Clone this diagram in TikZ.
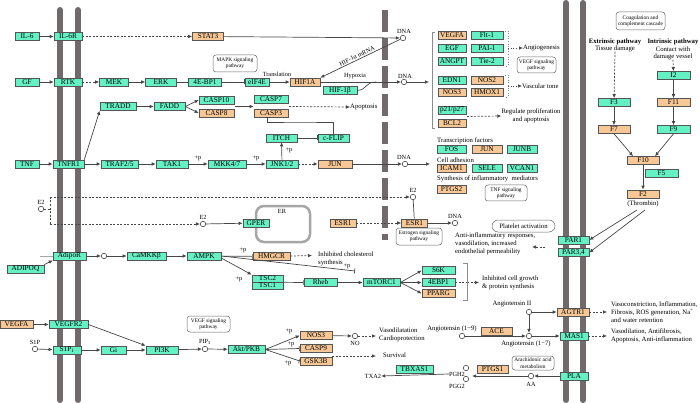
\documentclass[tikz,border=0pt]{standalone}
\usepackage{fontspec}
\setmainfont{Liberation Serif}
\usetikzlibrary{arrows.meta,calc}
\definecolor{kg}{RGB}{100,242,196}
\definecolor{ko}{RGB}{247,200,150}
\definecolor{memb}{RGB}{112,106,106}
\definecolor{lc}{RGB}{70,70,70}
\definecolor{bl}{RGB}{85,85,85}
\newcommand\bxf{\fontsize{7.3}{8}\selectfont}
\newcommand\lbf{\fontsize{6.7}{8}\selectfont}
\newcommand\smf{\fontsize{6.3}{7}\selectfont}
\newcommand\pwf{\fontsize{5.4}{6.3}\selectfont}
\tikzset{
 bx/.style={draw=bl, line width=0.6pt, minimum height=8pt, inner sep=0pt, font=\bxf},
 gb/.style={bx, fill=kg, minimum width=#1},
 ob/.style={bx, fill=ko, minimum width=#1},
 pw/.style 2 args={draw=black!60, line width=0.5pt, rounded corners=3pt, align=center, font=\pwf, inner sep=0pt, minimum width=#1, minimum height=#2},
 cp/.style={circle, draw=black!70, line width=0.6pt, minimum size=5.5pt, inner sep=0pt, fill=white},
 lb/.style={font=\lbf, inner sep=0pt},
 sl/.style={font=\smf, inner sep=0pt},
 ln/.style={draw=lc, line width=0.7pt},
 ac/.style={ln, -{Latex[length=4pt,width=3.6pt]}},
 ih/.style={ln, -{Bar[width=5pt]}},
 da/.style={dash pattern=on 2pt off 1.5pt},
 mb/.style={draw=memb, line width=6pt, line cap=round},
 brk/.style={draw=black!45, line width=0.6pt},
}
\begin{document}
\begin{tikzpicture}[x=1pt,y=-1pt]
\useasboundingbox (0,0) rectangle (700,403);
% membranes
\draw[mb] (60,10) -- (60,400);
\draw[mb] (78,10) -- (78,400);
\draw[mb] (566,3) -- (566,400);
\draw[mb] (583,3) -- (583,400);
\draw[draw=memb, line width=6pt, dash pattern=on 22pt off 6pt] (385,10) -- (385,240);

% ---------- IL-6 row
\node[gb=24] (IL6) at (27,36.5) {IL-6};
\node[gb=28] (IL6R) at (68,36.5) {IL-6R};
\node[ob=31] (STAT3) at (208,36.5) {STAT3};
\node[cp] (dna1) at (403,38) {};
\node[sl] at (404,31) {DNA};
\draw[ac] (IL6) -- (IL6R);
\draw[ac,da] (IL6R) -- (STAT3);
\draw[ac] (STAT3) -- (dna1);

% ---------- GF row
\node[gb=24] (GF) at (27,82) {GF};
\node[gb=28] (RTK) at (68,82) {RTK};
\node[gb=29] (MEK) at (114,82) {MEK};
\node[gb=31] (ERK) at (161,82) {ERK};
\node[gb=33] (EBP) at (205,82) {4E-BP1};
\node[gb=24] (EIF) at (257,82) {eIF4E};
\node[ob=30] (HIF1A) at (305,82) {HIF1A};
\node[gb=34] (HIF1B) at (340,90.5) {HIF-1β};
\node[cp] (dna2) at (404,82) {};
\node[sl] at (405,76) {DNA};
\node[pw={44}{17}] (mapk) at (235,63.5) {MAPK signaling\\pathway};
\node[sl] at (277,74) {Translation};
\node[sl] at (355,76.5) {Hypoxia};
\node[sl, rotate=26] at (357,56) {HIF-1α mRNA};
\draw[ac] (GF) -- (RTK);
\draw[ac,da] (RTK) -- (MEK);
\draw[ac] (MEK) -- (ERK);
\draw[ih] (ERK) -- (EBP);
\draw[ih] (EBP) -- (EIF);
\draw[ac] (EIF) -- (HIF1A);
\draw[ac] (HIF1A) -- (dna2);
\draw[ac] (dna1) -- (HIF1A.north east);
\draw[ln] (HIF1B.east) .. controls (367,90) and (365,82) .. (376,82);
\coordinate (gbr) at (429,82);
\draw[ac] (dna2) -- (gbr);

% ---------- gene panel
\draw[brk] (435,32) -- (432,32) -- (432,128) -- (435,128);
\node[ob=28] (VEGFA) at (452,35.5) {VEGFA};
\node[gb=32] (FLT1) at (487,35.5) {Flt-1};
\node[gb=28] (EGF) at (452,48.5) {EGF};
\node[gb=32] (PAI1) at (487,48.5) {PAI-1};
\node[gb=28] (ANGPT) at (452,61) {ANGPT};
\node[gb=32] (TIE2) at (487,61) {Tie-2};
\node[gb=28] (EDN1) at (452,80) {EDN1};
\node[ob=32] (NOS2) at (487,80) {NOS2};
\node[ob=28] (NOS3a) at (452,92) {NOS3};
\node[ob=32] (HMOX1) at (487,92) {HMOX1};
\node[gb=28] (P21) at (452,110) {p21/p27};
\node[ob=28] (BCL2) at (452,123) {BCL2};
\draw[brk, dotted] (505,31) -- (508,31) -- (508,66) -- (505,66);
\draw[brk, dotted] (505,75) -- (508,75) -- (508,97) -- (505,97);
\node[lb, anchor=west] (angio) at (523,48) {Angiogenesis};
\node[lb, anchor=west] (vasc) at (522,86) {Vascular tone};
\draw[ln, dotted, -{Latex[length=4pt,width=3.6pt]}] (508,48) -- (angio.west);
\draw[ln, dotted, -{Latex[length=4pt,width=3.6pt]}] (508,86) -- (vasc.west);
\node[pw={39}{16}] (vegfpw) at (536.5,65) {VEGF signaling\\pathway};
\node[lb, align=center] (regul) at (531,116) {Regulate proliferation\\and apoptosis};
\coordinate (rg) at (467,116.5);
\draw[ac,da] (rg) -- (regul.west);

\node[lb, anchor=west] at (437,141) {Transcription factors};
\node[gb=29] (FOS) at (451.5,149.5) {FOS};
\node[ob=30] (JUN2) at (487,149.5) {JUN};
\node[gb=30] (JUNB) at (522,149.5) {JUNB};
\node[lb, anchor=west] at (437,160) {Cell adhesion};
\node[ob=29] (ICAM1) at (451.5,168.5) {ICAM1};
\node[gb=30] (SELE) at (487,168.5) {SELE};
\node[gb=30] (VCAN1) at (522,168.5) {VCAN1};
\node[lb, anchor=west] at (437,179) {Synthesis of inflammatory\ \ mediators};
\node[ob=29] (PTGS2) at (451.5,189.5) {PTGS2};
\node[pw={42}{16}] (tnfpw) at (506,193) {TNF signaling\\pathway};

% ---------- apoptosis branch
\node[gb=36] (TRADD) at (118,106.5) {TRADD};
\node[gb=31] (FADD) at (169.5,106.5) {FADD};
\node[gb=35] (CASP10) at (216.5,100) {CASP10};
\node[ob=35] (CASP8) at (216.5,113) {CASP8};
\node[gb=34] (CASP7) at (271,99.5) {CASP7};
\node[ob=34] (CASP3) at (271,113) {CASP3};
\node[lb, anchor=west] (apop) at (350,107) {Apoptosis};
\node[gb=31] (ITCH) at (281.5,138) {ITCH};
\node[gb=31] (CFLIP) at (333.5,138) {c-FLIP};
\draw[ac] (TRADD) -- (FADD);
\draw[ac] (FADD.east) -- (CASP10.west);
\draw[ac] (FADD.east) -- (CASP8.west);
\coordinate (cg) at (235,106.5);
\draw[ac] (cg) -- (CASP7.west |- cg);
\coordinate (ca) at (289,106.5);
\draw[ac,da] (ca) -- (apop.west);
\draw[ih] (ITCH) -- (CFLIP);
\coordinate (cf) at (300,122);
\draw[ih] (CFLIP.north) |- (cf) -| ([xshift=-4pt]CASP3.south);

% ---------- TNF row
\node[gb=24] (TNF) at (27,164) {TNF};
\node[gb=31] (TNFR1) at (68.5,164) {TNFR1};
\node[gb=37] (TRAF) at (119.5,164) {TRAF2/5};
\node[gb=32] (TAK1) at (172,164) {TAK1};
\node[gb=38] (MKK) at (227,164) {MKK4/7};
\node[gb=32] (JNK) at (282,164) {JNK1/2};
\node[ob=34] (JUN1) at (335,164) {JUN};
\node[cp] (dna3) at (405,164) {};
\node[sl] at (404,157) {DNA};
\draw[ac] (TNF) -- (TNFR1);
\draw[ac] (TNFR1) -- (TRAF);
\draw[ac] (TRAF) -- (TAK1);
\draw[ac] (TAK1) -- (MKK);
\draw[ac] (MKK) -- (JNK);
\draw[ac] (JNK) -- (ITCH);
\draw[ac,da] (JNK) -- (JUN1);
\draw[ac] (JUN1) -- (dna3);
\coordinate (d3e) at (430,164);
\draw[ac] (dna3) -- (d3e);
\draw[ac] (TNFR1.north east) -- (TRADD.south west);
\node[sl] at (198,158) {+p};
\node[sl] at (256,158) {+p};
\node[sl] at (289,150) {+p};

% ---------- E2 / estrogen
\node[cp] (e2a) at (41,209) {};
\node[sl] at (41,202) {E2};
\node[cp] (e2b) at (413,197) {};
\node[sl] at (413,190) {E2};
\node[cp] (e2c) at (203,224) {};
\node[sl] at (203,217) {E2};
\coordinate (ea) at (50,209);
\coordinate (eb) at (50,197);
\coordinate (ec) at (50,224);
\draw[ln,da] (e2a) -- (ea);
\draw[ln,da] (eb) -- (ec);
\draw[ac,da] (eb) -- (e2b);
\draw[ac,da] (ec) -- (e2c);
\draw[draw=black!35, line width=2.5pt, rounded corners=8pt] (256,206) rectangle (310,242);
\node[sl] at (282,211) {ER};
\node[gb=26] (GPER) at (256,223) {GPER};
\draw[ac] (e2c) -- (GPER);
\node[ob=26] (ESR1a) at (343,223) {ESR1};
\node[ob=26] (ESR1b) at (414.5,223) {ESR1};
\node[cp] (dna4) at (455,223) {};
\node[sl] at (455,216) {DNA};
\draw[ac,da] (ESR1a) -- (ESR1b);
\draw[ln] (e2b) -- (ESR1b);
\draw[ac] (ESR1b) -- (dna4);
\node[pw={46}{17}] (estpw) at (419,236.5) {Estrogen signaling\\pathway};
\node[draw=black!60, line width=0.5pt, rounded corners=6pt, minimum width=63pt, minimum height=12pt, inner sep=0pt, font=\lbf] (plt) at (523.5,226) {Platelet activation};
\node[lb, anchor=north west, align=left] (anti) at (455,233) {Anti-inflammatory responses,\\vasodilation, increased\\endothelial permeability};

% ---------- coagulation
\node[pw={49}{18}] (coag) at (640.5,21) {Coagulation and\\complement cascade};
\node[lb, font=\lbf\bfseries] at (615,42) {Extrinsic pathway};
\node[lb] (tis) at (615,48.5) {Tissue damage};
\node[lb, font=\lbf\bfseries] at (673,42) {Intrinsic pathway};
\node[lb] at (673,49) {Contact with};
\node[lb] (dmg) at (673,56.5) {damage vessel};
\node[gb=32] (F3) at (614,102.5) {F3};
\node[ob=32] (F7) at (614,129.5) {F7};
\node[gb=33] (F12) at (673.5,75.5) {I2};
\node[ob=33] (F11) at (673.5,102.5) {F11};
\node[gb=33] (F9) at (673.5,129.5) {F9};
\node[ob=32] (F10) at (643,160.5) {F10};
\node[gb=33] (F5) at (661.5,173) {F5};
\node[ob=32] (F2) at (643,194) {F2};
\node[lb] (thr) at (643,204) {(Thrombin)};
\draw[ac,da] (tis.south) -- (F3);
\draw[ac,da] (dmg.south) -- (F12);
\draw[ac] (F3) -- (F7);
\draw[ac] (F12) -- (F11);
\draw[ac] (F11) -- (F9);
\draw[ac] (F7.south) -- ([xshift=-10pt]F10.north);
\draw[ac] (F9.south) -- ([xshift=12pt]F10.north);
\draw[ac] (F10) -- (F2);
\node[gb=31] (PAR1) at (573.5,240) {PAR1};
\node[gb=31] (PAR34) at (573.5,252.5) {PAR3,4};
\coordinate (t1) at (637,210);
\coordinate (t2) at (645,210);
\draw[ac] (t1) -- (PAR1.east);
\draw[ac] (t2) -- (PAR34.east);
\coordinate (pa) at (545,247);
\coordinate (pb) at (532,247);
\draw[ac,da] (pa) -- (pb);

% ---------- AMPK branch
\node[gb=33] (ADIPOR) at (69.5,256) {AdipoR};
\node[gb=37] (ADIPOQ) at (25.5,269) {ADIPOQ};
\node[cp] (c1) at (104,256) {};
\node[gb=39] (CAMKK) at (146.5,256) {CaMKKβ};
\node[gb=34] (AMPK) at (204,256) {AMPK};
\node[ob=37] (HMGCR) at (271.5,256.5) {HMGCR};
\node[lb, anchor=west, align=left] (chol) at (318,259) {Inhibited cholesterol\\synthesis};
\coordinate (adl) at (40,256);
\draw[ln, draw=black!35] (adl) -- (ADIPOR.west);
\draw[ac] (ADIPOQ.north east) -- (ADIPOR.south west);
\draw[ac] (ADIPOR) -- (c1);
\draw[ac] (c1) -- (CAMKK);
\draw[ac] (CAMKK) -- (AMPK);
\draw[ih] (AMPK) -- (HMGCR);
\coordinate (ch) at (312,255.5);
\draw[ac,da] (HMGCR) -- (ch);
\node[sl] at (243,250) {+p};
\node[gb=31, minimum height=7pt] (TSC2) at (267.5,278.5) {TSC2};
\node[gb=31, minimum height=7pt] (TSC1) at (267.5,285.5) {TSC1};
\node[gb=33] (RHEB) at (320.5,282.5) {Rheb};
\node[gb=37] (MTOR) at (381.5,282.5) {mTORC1};
\node[gb=33] (S6K) at (438.5,270.5) {S6K};
\node[gb=33] (EBP2) at (438.5,282.5) {4EBP1};
\node[ob=33] (PPARG) at (438.5,293.5) {PPARG};
\coordinate (mt) at (355,271);
\draw[ih] (AMPK.east) -- (mt);
\node[sl] at (347,266) {+p};
\draw[ac] ([yshift=-2pt]AMPK.east) -- (TSC2.north west);
\node[sl] at (239,279) {+p};
\draw[ih] (TSC2.south east) -- (RHEB.west);
\draw[ac] (RHEB) -- (MTOR);
\draw[ac] (MTOR.east) -- (S6K.west);
\draw[ac] (MTOR.east) -- (EBP2.west);
\draw[ac] (MTOR.east) -- (PPARG.west);
\coordinate (bk) at (467,282.5);
\coordinate (bt) at (479,282.5);
\draw[ln,da] (EBP2) -- (bk);
\draw[ac,da] (bk) -- (bt);
\draw[brk] (463,263) -- (467,263) -- (467,300) -- (463,300);
\node[lb, anchor=west, align=left] at (482,283) {Inhibited cell growth\\\& protein synthesis};

% ---------- angiotensin
\node[cp] (ANGII) at (529,312) {};
\node[lb] at (512,304) {Angiotensin II};
\node[ob=32] (AGTR1) at (573,312) {AGTR1};
\node[cp] (ANG17) at (529,336) {};
\node[lb] at (526,344) {Angiotensin (1−7)};
\node[gb=28] (MAS1) at (574,336) {MAS1};
\node[cp] (ANG19) at (462,336) {};
\node[lb] at (452,329) {Angiotensin (1−9)};
\node[ob=31] (ACE) at (496.5,331) {ACE};
\draw[ac] (ANG19) -- (ANG17);
\draw[ac] (ANGII) -- (AGTR1);
\draw[ac] (ANGII) -- (ANG17);
\draw[ac] (ANG17) -- (MAS1);
\node[lb, anchor=west, align=left] (vc) at (611,312) {Vasoconstriction, Inflammation,\\Fibrosis, ROS generation,\ Na\textsuperscript{+}\\and water retention};
\node[lb, anchor=west, align=left] (vd) at (611,335.5) {Vasodilation, Antifibrosis,\\Apoptosis, Anti-inflammation};
\coordinate (v1) at (607,312);
\coordinate (v2) at (607,336);
\draw[ac,da] (AGTR1) -- (v1);
\draw[ac,da] (MAS1) -- (v2);

% ---------- PLA / AA
\node[gb=28] (PLA) at (574,376) {PLA};
\node[cp] (AA) at (531,376) {};
\node[sl] at (531,384) {AA};
\node[pw={42}{14}] (arapw) at (533,363) {Arachidonic acid\\metabolism};
\node[ob=31] (PTGS1) at (492.5,369.5) {PTGS1};
\node[cp] (PGH2) at (466,368) {};
\node[cp] (PGG2) at (466,379) {};
\node[sl] (pghl) at (457,374) {PGH2};
\node[sl] at (457,386) {PGG2};
\node[gb=37] (TBXAS1) at (414.5,369.5) {TBXAS1};
\node[sl] (txa2) at (373,376) {TXA2};
\draw[ac] (PLA) -- (AA);
\coordinate (pgx) at (472,376);
\draw[ac] (AA) -- (pgx);
\draw[ac] (pghl.west) -- (txa2.east);

% ---------- VEGF / S1P / PI3K
\node[ob=33] (VEGFA2) at (16.5,324.5) {VEGFA};
\node[gb=39] (VEGFR2) at (68.5,324.5) {VEGFR2};
\node[cp] (S1P) at (35,349) {};
\node[sl] at (35,342) {S1P};
\node[gb=28] (S1PR) at (67,350) {S1P\textsubscript{1}};
\node[gb=25] (GI) at (113.5,350) {Gi};
\node[gb=32] (PI3K) at (162,350) {PI3K};
\node[pw={43}{16}] (vegfpw2) at (208.5,324) {VEGF signaling\\pathway};
\node[cp] (PIP3) at (205,349) {};
\node[sl] at (205,342) {PIP\textsubscript{3}};
\node[gb=37] (AKT) at (246.5,349.5) {Akt/PKB};
\node[ob=32] (NOS3b) at (316,335.5) {NOS3};
\node[ob=32] (CASP9) at (316,348.5) {CASP9};
\node[ob=32] (GSK3B) at (316,361) {GSK3B};
\node[cp] (NO) at (355,336) {};
\node[sl] at (355,343) {NO};
\node[lb, anchor=west, align=left] at (379,335) {Vasodilatation\\Cardioprotection};
\node[lb, anchor=west] at (383,355) {Survival};
\draw[ac] (VEGFA2) -- (VEGFR2);
\draw[ac] (VEGFR2.east) -- (PI3K.north west);
\draw[ac] (S1P) -- (S1PR);
\draw[ac] (S1PR) -- (GI);
\draw[ac] (GI) -- (PI3K);
\draw[ac] (PI3K) -- (PIP3);
\draw[ac] (PIP3) -- (AKT);
\draw[ac] (AKT.east) -- (NOS3b.west);
\draw[ih] (AKT.east) -- (CASP9.west);
\draw[ih] (AKT.east) -- (GSK3B.west);
\node[sl] at (289,331) {+p};
\node[sl] at (291,344) {+p};
\node[sl] at (288,363.5) {+p};
\draw[ac] (NOS3b) -- (NO);
\coordinate (no2) at (376,336);
\draw[ac,da] (NO) -- (no2);
\coordinate (sv1) at (332,356);
\coordinate (sv2) at (376,356);
\draw[ac,da] (sv1) -- (sv2);
\end{tikzpicture}
\end{document}
